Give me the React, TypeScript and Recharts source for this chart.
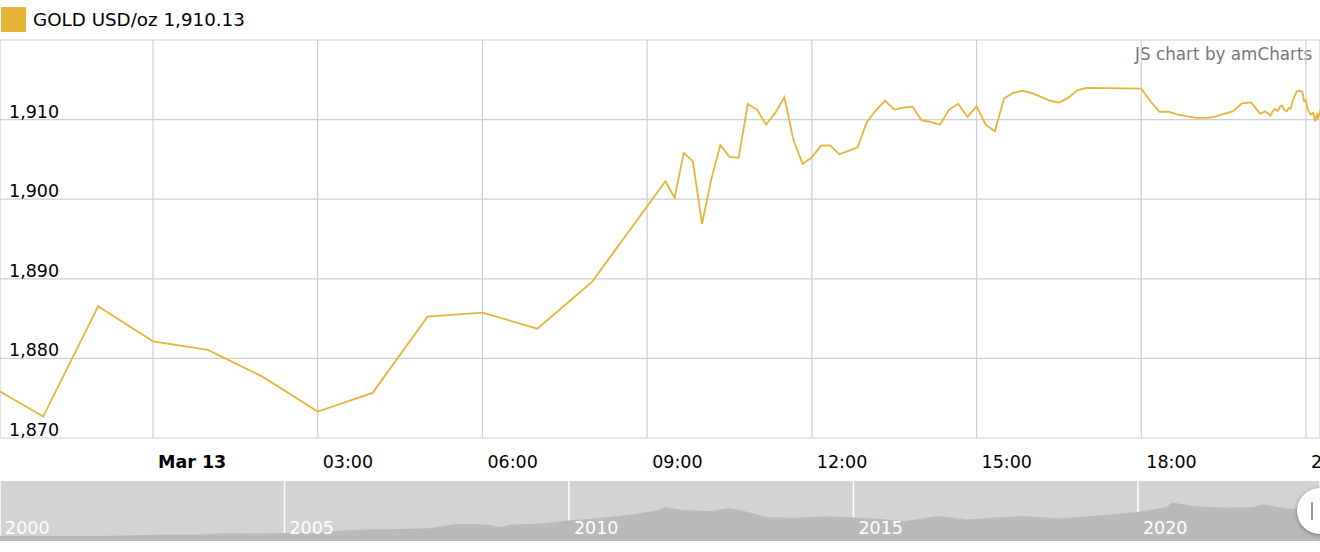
import React from "react";
import {
  LineChart,
  Line,
  XAxis,
  YAxis,
  CartesianGrid,
  AreaChart,
  Area,
} from "recharts";

// minutes from Mar 13 00:00
const minutes = [
  -180, -120, -60, 0, 60, 120, 180, 240, 300, 360, 420, 480, 560, 570, 580, 590,
  600, 610, 620, 630, 640, 650, 660, 670, 680, 690, 700, 710, 720, 730, 740, 750,
  760, 770, 780, 790, 800, 810, 820, 830, 840, 850, 860, 870, 880, 890, 900, 910,
  920, 930, 940, 950, 960, 980, 990, 1000, 1010, 1020, 1080, 1090, 1100, 1110,
  1120, 1140, 1150, 1160, 1170, 1180, 1190, 1200, 1210, 1215, 1219, 1221, 1224,
  1226, 1229, 1232, 1234, 1236, 1239, 1241, 1243, 1246, 1250, 1253, 1256, 1258,
  1260, 1262, 1265, 1268, 1270, 1272, 1273, 1275, 1277,
];

const prices = [
  1876.7, 1872.69, 1886.55, 1882.15, 1881.07, 1877.68, 1873.32, 1875.67, 1885.25,
  1885.75, 1883.74, 1889.65, 1902.25, 1900.16, 1905.82, 1904.76, 1896.9, 1902.46,
  1906.82, 1905.31, 1905.19, 1911.97, 1911.26, 1909.37, 1910.84, 1912.8, 1907.36,
  1904.43, 1905.26, 1906.73, 1906.77, 1905.64, 1906.07, 1906.52, 1909.66, 1911.17,
  1912.39, 1911.26, 1911.51, 1911.63, 1909.91, 1909.71, 1909.37, 1911.26, 1911.97,
  1910.34, 1911.67, 1909.37, 1908.53, 1912.64, 1913.35, 1913.61, 1913.35, 1912.39,
  1912.14, 1912.73, 1913.68, 1913.98, 1913.89, 1912.3, 1910.97, 1911.0, 1910.63,
  1910.21, 1910.21, 1910.34, 1910.72, 1911.04, 1912.05, 1912.17, 1910.72, 1911.04,
  1910.75, 1910.5, 1911.13, 1911.34, 1911.09, 1911.67, 1911.76, 1911.26, 1911.04,
  1911.47, 1911.34, 1912.51, 1913.56, 1913.64, 1913.48, 1912.3, 1912.39, 1911.26,
  1910.63, 1910.84, 1909.79, 1910.63, 1910.21, 1910.92, 1910.13,
];

const timeTicks = [0, 180, 360, 540, 720, 900, 1080, 1260];
const timeLabels = ["Mar 13", "03:00", "06:00", "09:00", "12:00", "15:00", "18:00", "21:00"];
const priceTicks = [1870, 1880, 1890, 1900, 1910, 1920];
const priceLabels = ["1,870", "1,880", "1,890", "1,900", "1,910", ""];

// scrollbar history (year, USD/oz)
const histYears = [
  2000, 2000.5, 2001, 2001.5, 2002, 2002.5, 2003, 2003.5, 2004, 2004.5, 2005,
  2005.5, 2006, 2006.5, 2007, 2007.5, 2008, 2008.5, 2008.8, 2009, 2009.5, 2010,
  2010.5, 2011, 2011.5, 2011.7, 2012, 2012.5, 2012.8, 2013, 2013.5, 2014, 2014.5,
  2015, 2015.5, 2015.9, 2016.5, 2017, 2017.5, 2018, 2018.6, 2019, 2019.5, 2020,
  2020.5, 2020.6, 2021, 2021.5, 2022, 2022.2, 2022.7, 2023, 2023.2,
];
const histPrices = [
  280, 285, 265, 270, 280, 315, 350, 350, 410, 400, 425, 430, 560, 620, 640, 670,
  900, 900, 750, 880, 940, 1100, 1220, 1380, 1600, 1800, 1650, 1600, 1750, 1670,
  1250, 1240, 1320, 1250, 1170, 1060, 1330, 1150, 1250, 1330, 1200, 1290, 1420,
  1550, 1800, 2050, 1850, 1780, 1800, 1950, 1700, 1900, 1880,
];
const yearTicks = [2000, 2005, 2010, 2015, 2020];

const goldData = minutes.map((m, i) => ({ t: m, price: prices[i] }));
const histData = histYears.map((y, i) => ({ year: y, price: histPrices[i] }));

const GOLD = "#e6b437";
const FONT = "'DejaVu Sans', Verdana, sans-serif";

const TimeTick = (props: any) => {
  const { x, payload } = props;
  const idx = timeTicks.indexOf(payload.value);
  return (
    <text
      x={x + 5}
      y={468}
      fontSize={17.5}
      fontFamily={FONT}
      fontWeight={idx === 0 ? 700 : 400}
      fill="#000"
    >
      {timeLabels[idx]}
    </text>
  );
};

const PriceTick = (props: any) => {
  const { y, payload } = props;
  const idx = priceTicks.indexOf(payload.value);
  return (
    <text x={9} y={y - 2} fontSize={17.5} fontFamily={FONT} fill="#000">
      {priceLabels[idx]}
    </text>
  );
};

const YearTick = (props: any) => {
  const { x, payload } = props;
  return (
    <text x={x + 5} y={53} fontSize={17.5} fontFamily={FONT} fill="#fff">
      {payload.value}
    </text>
  );
};

export default function App() {
  const last = prices[prices.length - 1];
  return (
    <div
      style={{
        position: "absolute",
        left: 0,
        top: 0,
        width: 1320,
        height: 552,
        background: "#fff",
        fontFamily: FONT,
        overflow: "hidden",
      }}
    >
      {/* legend */}
      <div style={{ position: "absolute", left: 1, top: 7, width: 25, height: 25, background: GOLD }} />
      <div style={{ position: "absolute", left: 33, top: 9, fontSize: 18.3, color: "#000", whiteSpace: "nowrap" }}>
        GOLD USD/oz {last.toLocaleString("en-US", { minimumFractionDigits: 2 })}
      </div>
      <div style={{ position: "absolute", left: 1135, top: 44, fontSize: 16.8, color: "#777", whiteSpace: "nowrap" }}>
        JS chart by amCharts
      </div>

      <div style={{ position: "absolute", left: 0, top: 0 }}>
        <LineChart width={1320} height={480} data={goldData} margin={{ top: 40, right: 0, bottom: 0, left: 0 }}>
          <CartesianGrid stroke="#cfcfcf" strokeWidth={1.2} />
          <XAxis
            dataKey="t"
            type="number"
            scale="linear"
            domain={[-167.2, 1275.3]}
            allowDataOverflow
            ticks={timeTicks}
            interval={0}
            tick={<TimeTick />}
            tickLine={false}
            axisLine={false}
            height={42}
          />
          <YAxis
            type="number"
            domain={[1870, 1920]}
            allowDataOverflow
            ticks={priceTicks}
            interval={0}
            tick={<PriceTick />}
            tickLine={false}
            axisLine={false}
            mirror
            width={60}
          />
          <Line
            type="linear"
            dataKey="price"
            stroke={GOLD}
            strokeWidth={1.8}
            dot={false}
            isAnimationActive={false}
          />
        </LineChart>
      </div>

      {/* scrollbar */}
      <div style={{ position: "absolute", left: 0, top: 481, width: 1320, height: 60, background: "#d3d3d3" }}>
        <AreaChart width={1320} height={60} data={histData} margin={{ top: 0, right: 0, bottom: 0, left: 0 }}>
          <Area
            type="linear"
            dataKey="price"
            stroke="none"
            fill="#b9b9b9"
            fillOpacity={1}
            isAnimationActive={false}
          />
          <CartesianGrid horizontal={false} stroke="#fff" strokeWidth={1.5} />
          <XAxis
            dataKey="year"
            type="number"
            domain={[2000, 2023.2]}
            allowDataOverflow
            ticks={yearTicks}
            interval={0}
            tick={<YearTick />}
            tickLine={false}
            axisLine={false}
            mirror
            height={30}
          />
          <YAxis type="number" domain={[0, 3200]} hide />
        </AreaChart>
      </div>
      <div
        style={{
          position: "absolute",
          left: 1297,
          top: 488,
          width: 50,
          height: 46,
          borderRadius: 23,
          background: "#fff",
          boxShadow: "0 1px 4px rgba(0,0,0,0.35)",
        }}
      >
        <div style={{ position: "absolute", left: 14, top: 14, width: 2, height: 18, background: "#999" }} />
      </div>
    </div>
  );
}
